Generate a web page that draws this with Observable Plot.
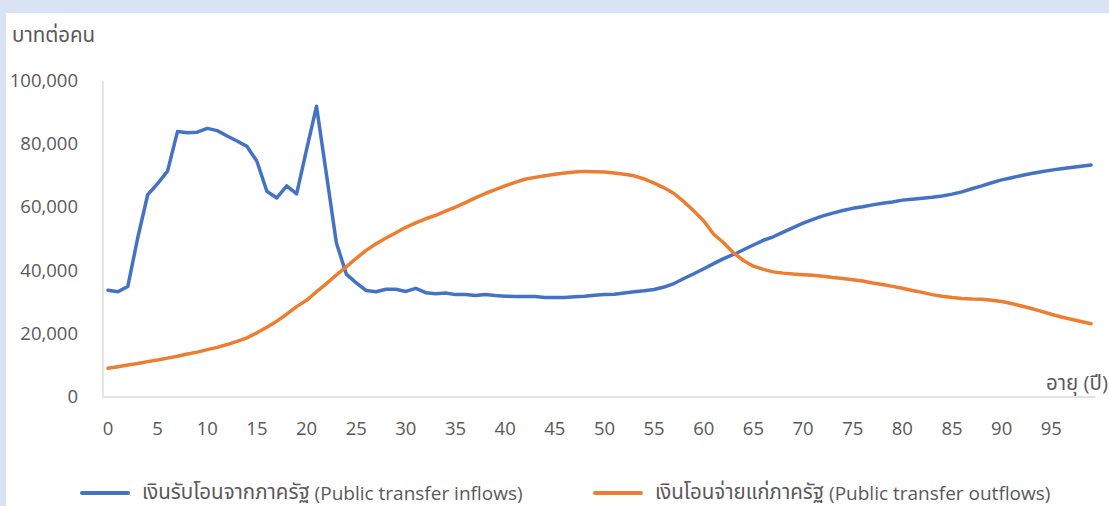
<!DOCTYPE html>
<html>
<head>
<meta charset="utf-8">
<script src="https://cdn.jsdelivr.net/npm/d3@7"></script>
<script src="https://cdn.jsdelivr.net/npm/@observablehq/plot@0.6"></script>
<style>
html, body { margin:0; padding:0; width:1109px; height:506px; overflow:hidden; background:#dae3f3; }
#panel { position:absolute; left:6px; top:13px; width:1103px; height:493px; background:#ffffff; }
.txt { font-family:"Open Sans","Noto Sans Thai","Noto Sans","DejaVu Sans",sans-serif; color:#595959; font-size:19px; white-space:nowrap; }
.th { font-size:20.5px; }
#ytitle { position:absolute; left:6px; top:7px; }
#chart { position:absolute; left:0; top:47px; }
.leg { position:absolute; top:464px; display:flex; align-items:center; }
.leg .sw { width:50px; height:4px; border-radius:2px; margin-right:12px; }
</style>
</head>
<body>
<div id="panel">
  <div id="ytitle" class="txt th">บาทต่อคน</div>
  <div id="chart"></div>
  <div id="legend"></div>
</div>
<script>
const ages = d3.range(0, 100);
const seriesThai = ["เงินรับโอนจากภาครัฐ", "เงินโอนจ่ายแก่ภาครัฐ"];
const seriesEng = ["(Public transfer inflows)", "(Public transfer outflows)"];
const seriesColors = ["#4472c4", "#ed7d31"];
const inflows = [
  33800, 33300, 35000, 50400, 64000, 67500, 71500, 84000, 83600, 83800,
  85000, 84300, 82600, 81000, 79300, 74600, 65100, 63000, 66800, 64300,
  78300, 92000, 70500, 48800, 38900, 36100, 33700, 33300, 34100, 34100,
  33400, 34400, 33000, 32700, 32900, 32400, 32400, 32100, 32400, 32100,
  31900, 31800, 31800, 31800, 31500, 31500, 31500, 31700, 31900, 32200,
  32400, 32500, 32900, 33300, 33600, 34000, 34800, 35900, 37500, 39000,
  40600, 42200, 43800, 45100, 46600, 48100, 49600, 50700, 52200, 53600,
  55000, 56200, 57300, 58200, 59000, 59700, 60200, 60800, 61300, 61700,
  62300, 62600, 62900, 63200, 63600, 64200, 64900, 65900, 66800, 67800,
  68700, 69400, 70100, 70700, 71300, 71800, 72200, 72600, 73000, 73400
];
const outflows = [
  9100, 9600, 10100, 10600, 11200, 11700, 12300, 12900, 13600, 14200,
  15000, 15700, 16600, 17600, 18700, 20300, 22100, 24000, 26200, 28600,
  30600, 33300, 35900, 38600, 41200, 43900, 46400, 48500, 50300, 52000,
  53700, 55100, 56400, 57500, 58800, 60100, 61500, 63000, 64400, 65600,
  66800, 67900, 68900, 69500, 70000, 70500, 70900, 71200, 71400, 71300,
  71200, 70900, 70500, 70000, 69000, 67700, 66200, 64400, 61800, 58900,
  55700, 51500, 48800, 45600, 43200, 41400, 40400, 39600, 39200, 38900,
  38700, 38500, 38200, 37800, 37500, 37100, 36700, 36100, 35600, 35000,
  34400, 33700, 33100, 32400, 31900, 31500, 31200, 31000, 30900, 30600,
  30200, 29600, 28800, 28000, 27100, 26200, 25300, 24600, 23900, 23200
];
const xTicks = d3.range(0, 100, 5);
const yTicks = [0, 20000, 40000, 60000, 80000, 100000];
const xLabel = "อายุ (ปี)";

const inRows = ages.map((a, i) => ({age: a, value: inflows[i]}));
const outRows = ages.map((a, i) => ({age: a, value: outflows[i]}));
const font = '"Open Sans","Noto Sans Thai","Noto Sans","DejaVu Sans",sans-serif';

const chart = Plot.plot({
  width: 1103,
  height: 386,
  marginLeft: 96.5,
  marginRight: 13.5,
  marginTop: 20.5,
  marginBottom: 49.5,
  style: {fontFamily: font, fontSize: "18.5px", color: "#595959", background: "transparent", overflow: "visible"},
  x: {domain: [-0.5, 99.5]},
  y: {domain: [0, 100000]},
  marks: [
    Plot.ruleX([-0.5], {stroke: "#d9d9d9", strokeWidth: 1.3}),
    Plot.ruleY([0], {stroke: "#d9d9d9", strokeWidth: 1.3}),
    Plot.axisX({ticks: xTicks, tickSize: 0, tickPadding: 25, label: null, tickFormat: d => String(d), fill: "#595959"}),
    Plot.axisY({ticks: yTicks, tickSize: 0, tickPadding: 25, label: null, tickFormat: d3.format(","), fill: "#595959"}),
    Plot.line(inRows, {x: "age", y: "value", stroke: seriesColors[0], strokeWidth: 3.5, strokeLinejoin: "round", strokeLinecap: "round"}),
    Plot.line(outRows, {x: "age", y: "value", stroke: seriesColors[1], strokeWidth: 3.5, strokeLinejoin: "round", strokeLinecap: "round"}),
    Plot.text([xLabel], {x: 99.5, y: 0, text: d => d, textAnchor: "end", dx: 12, dy: -14, fill: "#595959", fontSize: 20.5})
  ]
});
document.getElementById("chart").appendChild(chart);

const legend = document.getElementById("legend");
const legLeft = [74, 587];
seriesThai.forEach((name, i) => {
  const d = document.createElement("div");
  d.className = "leg txt";
  d.style.left = legLeft[i] + "px";
  d.innerHTML = `<div class="sw" style="background:${seriesColors[i]}"></div><span class="th">${name}</span><span>&nbsp;${seriesEng[i]}</span>`;
  legend.appendChild(d);
});
</script>
</body>
</html>
